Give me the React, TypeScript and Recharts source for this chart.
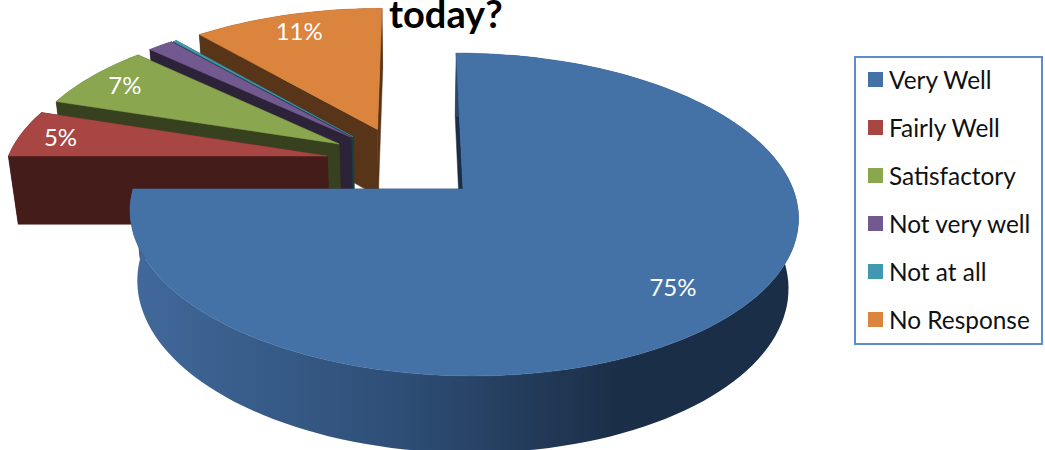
import React from 'react';
import { PieChart, Pie, Legend } from 'recharts';

const categories = ['Very Well', 'Fairly Well', 'Satisfactory', 'Not very well', 'Not at all', 'No Response'];
const responseShares = [75, 5, 7, 1.5, 0.2, 11.3];
const sliceColors = ['#4471A6', '#A84644', '#8AA64F', '#72598F', '#4198AF', '#DB843D'];
const wallColors = ['#1B2E47', '#441C1A', '#37411F', '#2D2339', '#1A3D46', '#583518'];
// how far each slice is pulled out of the pie, in pie radii
const explodeX = [0, -0.42, -0.386, -0.35, -0.343, -0.266];
const explodeY = [0, 0.217, 0.3, 0.347, 0.35, 0.402];
// where the percent label sits along the slice's middle, in pie radii
const labelRadii = [0.8, 0.87, 0.86, 0.84, 0.84, 0.85];

// drawn back to front, so the big slice goes last
const pieData = categories
  .map((name, i) => ({ name, value: responseShares[i], fill: sliceColors[i], wall: wallColors[i], ex: explodeX[i], ey: explodeY[i], lr: labelRadii[i] }))
  .reverse();

// perspective of the tilted pie
const FLATTEN = 0.477;
const DEPTH = 0.217;
const SKEW_Y = -0.024;
const SKEW_Z = -0.004;
const PERSP_Y = 0.158;
const PERSP_Z = 0.026;

const project = (cx: number, cy: number, r: number, x: number, y: number, z: number) => {
  const w = 1 + PERSP_Y * y + PERSP_Z * z;
  return [cx + (r * (x + SKEW_Y * y + SKEW_Z * z)) / w, cy + (r * (-FLATTEN * y + DEPTH * z)) / w];
};

const toPath = (pts: number[][]) => 'M' + pts.map((p) => p[0].toFixed(1) + ',' + p[1].toFixed(1)).join('L') + 'Z';

const Slice3D = (props: any) => {
  const { cx, cy, outerRadius, startAngle, endAngle, percent, fill, wall, ex, ey, lr, index } = props;
  const at = (rad: number, deg: number, z: number) => {
    const a = (deg * Math.PI) / 180;
    return project(cx, cy, outerRadius, ex + rad * Math.cos(a), ey + rad * Math.sin(a), z);
  };
  const steps = Math.max(4, Math.ceil(Math.abs(endAngle - startAngle) / 2));
  const angles: number[] = [];
  for (let i = 0; i <= steps; i++) angles.push(startAngle + ((endAngle - startAngle) * i) / steps);

  const topArc = angles.map((d) => at(1, d, 0));
  const lowArc = angles.map((d) => at(1, d, 1));
  const apexTop = at(0, 0, 0);
  const apexLow = at(0, 0, 1);
  const isMain = percent > 0.5;
  const wallFill = isMain ? 'url(#mainWall)' : wall;
  const mid = (startAngle + endAngle) / 2;
  const labelPos = at(lr, mid, 0);

  return (
    <g key={index}>
      {isMain && (
        <defs>
          <linearGradient id="mainWall" gradientUnits="userSpaceOnUse" x1="130" y1="0" x2="620" y2="0">
            <stop offset="0" stopColor="#41699B" />
            <stop offset="0.55" stopColor="#2E4E76" />
            <stop offset="1" stopColor="#1B2E47" />
          </linearGradient>
        </defs>
      )}
      <path d={toPath([apexTop, topArc[0], lowArc[0], apexLow])} fill={wall} stroke={wall} strokeWidth={0.5} />
      <path
        d={toPath([apexTop, topArc[topArc.length - 1], lowArc[lowArc.length - 1], apexLow])}
        fill={wall}
        stroke={wall}
        strokeWidth={0.5}
      />
      <path d={toPath([...topArc, ...[...lowArc].reverse()])} fill={wallFill} />
      <path d={toPath([apexTop, ...topArc])} fill={fill} stroke={fill} strokeWidth={0.5} />
      {percent >= 0.04 && (
        <text x={labelPos[0]} y={labelPos[1]} fill="#fff" fontSize={24} textAnchor="middle" dominantBaseline="central">
          {Math.round(percent * 100) + '%'}
        </text>
      )}
    </g>
  );
};

const LegendBox = ({ payload }: any) => {
  const items = [...(payload || [])].sort((a: any, b: any) => categories.indexOf(a.value) - categories.indexOf(b.value));
  return (
    <div style={{ width: 189, height: 289, boxSizing: 'border-box', border: '2px solid #5B8DC9', background: '#fff', position: 'relative' }}>
      {items.map((item: any, i: number) => (
        <div key={item.value} style={{ position: 'absolute', left: 12, top: 5 + i * 48, height: 32, display: 'flex', alignItems: 'center' }}>
          <span style={{ width: 15, height: 15, background: item.color, marginRight: 6, flex: 'none' }} />
          <span style={{ fontSize: 24.4, color: '#111', whiteSpace: 'nowrap' }}>{item.value}</span>
        </div>
      ))}
    </div>
  );
};

export default function App() {
  return (
    <div style={{ position: 'absolute', left: 0, top: 0, width: 1045, height: 450, overflow: 'hidden', background: '#fff', fontFamily: 'Lato, sans-serif' }}>
      <PieChart width={1045} height={450} margin={{ top: 0, right: 0, bottom: 0, left: 0 }}>
        <text x={389} y={28} fontSize={38} fontWeight={700} fill="#000" fontFamily="Lato, sans-serif">
          today?
        </text>
        <Pie
          data={pieData}
          dataKey="value"
          nameKey="name"
          cx={463}
          cy={189}
          outerRadius={330}
          startAngle={90}
          endAngle={450}
          stroke="none"
          shape={Slice3D}
          isAnimationActive={false}
        />
        <Legend
          layout="vertical"
          content={<LegendBox />}
          wrapperStyle={{ position: 'absolute', left: 854, top: 56, width: 189, height: 289 }}
        />
      </PieChart>
    </div>
  );
}
